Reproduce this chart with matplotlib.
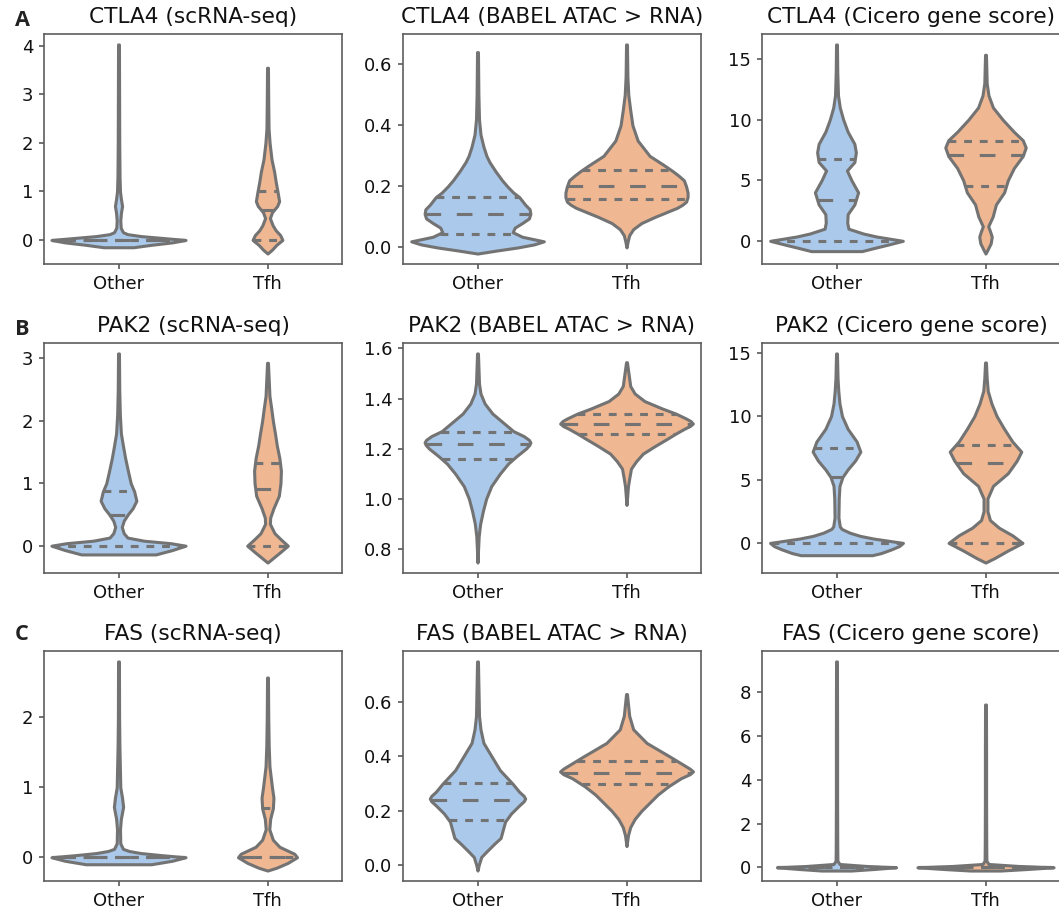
import numpy as np
import matplotlib
matplotlib.use("Agg")
import matplotlib.pyplot as plt

groups = ["Other", "Tfh"]
genes = ["CTLA4", "PAK2", "FAS"]
methods = ["scRNA-seq", "BABEL ATAC > RNA", "Cicero gene score"]
panel_letters = ["A", "B", "C"]

# violin outlines: y values and half widths (category units)
# quartiles are [Q1, median, Q3]

# CTLA4 scRNA-seq
ctla4_rna_other_y = [-0.15, -0.10, -0.05, 0.0, 0.04, 0.08, 0.12, 0.16, 0.25, 0.4, 0.55, 0.7, 0.85, 1.0, 1.3, 2.0, 3.0, 4.03]
ctla4_rna_other_w = [0.10, 0.22, 0.36, 0.45, 0.30, 0.15, 0.06, 0.03, 0.015, 0.012, 0.016, 0.024, 0.016, 0.01, 0.007, 0.005, 0.004, 0.003]
ctla4_rna_other_q = [0.0, 0.0, 0.0]
ctla4_rna_tfh_y = [-0.28, -0.2, -0.1, 0.0, 0.1, 0.2, 0.3, 0.45, 0.57, 0.7, 0.8, 1.0, 1.2, 1.4, 1.66, 2.0, 2.3, 2.8, 3.55]
ctla4_rna_tfh_w = [0.0, 0.03, 0.06, 0.10, 0.085, 0.055, 0.035, 0.016, 0.03, 0.065, 0.078, 0.067, 0.055, 0.045, 0.027, 0.014, 0.007, 0.005, 0.003]
ctla4_rna_tfh_q = [0.0, 0.62, 1.0]

# CTLA4 BABEL
ctla4_babel_other_y = [-0.02, -0.01, 0.0, 0.01, 0.02, 0.035, 0.05, 0.065, 0.08, 0.095, 0.11, 0.125, 0.14, 0.165, 0.18, 0.2, 0.22, 0.25, 0.28, 0.3, 0.33, 0.37, 0.42, 0.5, 0.64]
ctla4_babel_other_w = [0.0, 0.13, 0.27, 0.38, 0.445, 0.30, 0.236, 0.25, 0.30, 0.345, 0.355, 0.35, 0.32, 0.28, 0.24, 0.20, 0.165, 0.12, 0.08, 0.06, 0.04, 0.02, 0.01, 0.006, 0.003]
ctla4_babel_other_q = [0.045, 0.11, 0.165]
ctla4_babel_tfh_y = [0.0, 0.02, 0.04, 0.06, 0.08, 0.1, 0.12, 0.13, 0.14, 0.15, 0.165, 0.18, 0.2, 0.22, 0.235, 0.25, 0.27, 0.3, 0.35, 0.4, 0.45, 0.5, 0.56, 0.665]
ctla4_babel_tfh_w = [0.0, 0.008, 0.018, 0.045, 0.10, 0.19, 0.29, 0.34, 0.375, 0.40, 0.41, 0.41, 0.40, 0.385, 0.35, 0.31, 0.25, 0.155, 0.075, 0.04, 0.025, 0.012, 0.006, 0.003]
ctla4_babel_tfh_q = [0.16, 0.2, 0.253]

# CTLA4 Cicero
ctla4_cicero_other_y = [-0.85, -0.6, -0.3, 0.0, 0.15, 0.35, 0.6, 0.8, 1.0, 1.5, 2.2, 3.0, 4.0, 5.0, 5.8, 6.5, 7.3, 8.0, 9.0, 10.0, 11.0, 12.0, 14.0, 16.2]
ctla4_cicero_other_w = [0.17, 0.25, 0.35, 0.445, 0.37, 0.27, 0.18, 0.13, 0.08, 0.072, 0.075, 0.12, 0.145, 0.10, 0.07, 0.12, 0.13, 0.12, 0.075, 0.045, 0.022, 0.01, 0.005, 0.003]
ctla4_cicero_other_q = [0.0, 3.4, 6.71]
ctla4_cicero_tfh_y = [-1.05, -0.75, -0.2, 0.35, 0.8, 1.2, 2.0, 3.0, 4.0, 5.0, 6.0, 7.0, 7.7, 8.3, 9.0, 10.0, 11.0, 12.0, 13.0, 15.35]
ctla4_cicero_tfh_w = [0.0, 0.013, 0.035, 0.042, 0.03, 0.018, 0.048, 0.07, 0.125, 0.15, 0.19, 0.25, 0.27, 0.25, 0.19, 0.115, 0.05, 0.02, 0.008, 0.003]
ctla4_cicero_tfh_q = [4.56, 7.04, 8.26]

# PAK2 scRNA-seq
pak2_rna_other_y = [-0.14, -0.07, 0.0, 0.04, 0.08, 0.13, 0.2, 0.3, 0.4, 0.5, 0.6, 0.72, 0.87, 1.0, 1.2, 1.4, 1.6, 1.8, 2.1, 2.5, 3.08]
pak2_rna_other_w = [0.25, 0.36, 0.45, 0.35, 0.17, 0.06, 0.035, 0.022, 0.035, 0.062, 0.095, 0.12, 0.105, 0.082, 0.063, 0.045, 0.03, 0.016, 0.009, 0.005, 0.003]
pak2_rna_other_q = [0.0, 0.498, 0.873]
pak2_rna_tfh_y = [-0.27, -0.2, -0.1, 0.0, 0.1, 0.2, 0.35, 0.45, 0.6, 0.8, 1.0, 1.2, 1.4, 1.6, 1.8, 2.0, 2.2, 2.4, 2.93]
pak2_rna_tfh_w = [0.0, 0.036, 0.087, 0.136, 0.09, 0.047, 0.016, 0.018, 0.04, 0.076, 0.087, 0.09, 0.08, 0.063, 0.05, 0.036, 0.025, 0.013, 0.003]
pak2_rna_tfh_q = [0.0, 0.91, 1.33]

# PAK2 BABEL
pak2_babel_other_y = [0.745, 0.8, 0.85, 0.9, 0.95, 1.0, 1.05, 1.1, 1.14, 1.17, 1.2, 1.215, 1.225, 1.235, 1.25, 1.27, 1.3, 1.34, 1.38, 1.42, 1.46, 1.58]
pak2_babel_other_w = [0.0, 0.004, 0.008, 0.018, 0.036, 0.058, 0.092, 0.15, 0.205, 0.262, 0.325, 0.348, 0.355, 0.345, 0.31, 0.24, 0.18, 0.10, 0.048, 0.02, 0.01, 0.003]
pak2_babel_other_q = [1.157, 1.217, 1.268]
pak2_babel_tfh_y = [0.975, 1.05, 1.08, 1.12, 1.15, 1.18, 1.21, 1.24, 1.26, 1.28, 1.29, 1.30, 1.31, 1.32, 1.34, 1.36, 1.39, 1.42, 1.45, 1.545]
pak2_babel_tfh_w = [0.0, 0.01, 0.018, 0.03, 0.065, 0.11, 0.19, 0.275, 0.33, 0.39, 0.425, 0.445, 0.43, 0.40, 0.33, 0.24, 0.12, 0.055, 0.025, 0.003]
pak2_babel_tfh_q = [1.257, 1.297, 1.339]

# PAK2 Cicero
pak2_cicero_other_y = [-0.97, -0.8, -0.5, -0.25, 0.0, 0.15, 0.34, 0.55, 0.8, 1.1, 1.3, 2.0, 3.5, 4.5, 5.2, 5.8, 6.5, 7.2, 8.0, 9.0, 10.0, 11.0, 12.0, 13.0, 14.95]
pak2_cicero_other_w = [0.24, 0.3, 0.37, 0.42, 0.446, 0.36, 0.25, 0.16, 0.09, 0.035, 0.022, 0.013, 0.015, 0.02, 0.04, 0.075, 0.125, 0.16, 0.135, 0.075, 0.037, 0.02, 0.012, 0.007, 0.003]
pak2_cicero_other_q = [0.0, 5.19, 7.5]
pak2_cicero_tfh_y = [-1.55, -1.2, -0.6, 0.0, 0.6, 1.2, 1.8, 2.5, 3.5, 4.5, 5.5, 6.5, 7.2, 8.0, 9.0, 10.0, 11.0, 12.0, 13.0, 14.24]
pak2_cicero_tfh_w = [0.0, 0.06, 0.15, 0.248, 0.18, 0.09, 0.03, 0.013, 0.013, 0.05, 0.15, 0.21, 0.24, 0.18, 0.125, 0.075, 0.04, 0.015, 0.008, 0.003]
pak2_cicero_tfh_q = [0.0, 6.29, 7.74]

# FAS scRNA-seq
fas_rna_other_y = [-0.1, -0.05, 0.0, 0.03, 0.06, 0.09, 0.12, 0.2, 0.4, 0.55, 0.72, 0.85, 1.0, 1.2, 1.6, 2.0, 2.8]
fas_rna_other_w = [0.22, 0.36, 0.45, 0.29, 0.15, 0.07, 0.03, 0.012, 0.01, 0.016, 0.031, 0.024, 0.012, 0.01, 0.006, 0.004, 0.003]
fas_rna_other_q = [0.0, 0.0, 0.0]
fas_rna_tfh_y = [-0.19, -0.15, -0.08, 0.0, 0.05, 0.15, 0.25, 0.4, 0.55, 0.7, 0.85, 1.0, 1.3, 1.6, 2.0, 2.57]
fas_rna_tfh_w = [0.0, 0.06, 0.136, 0.198, 0.18, 0.08, 0.036, 0.012, 0.018, 0.036, 0.04, 0.03, 0.013, 0.008, 0.005, 0.003]
fas_rna_tfh_q = [0.0, 0.0, 0.708]

# FAS BABEL
fas_babel_other_y = [-0.02, 0.0, 0.03, 0.05, 0.08, 0.1, 0.13, 0.16, 0.19, 0.22, 0.235, 0.245, 0.255, 0.27, 0.3, 0.35, 0.4, 0.45, 0.5, 0.55, 0.75]
fas_babel_other_w = [0.0, 0.008, 0.025, 0.06, 0.115, 0.155, 0.17, 0.185, 0.225, 0.28, 0.31, 0.32, 0.31, 0.28, 0.235, 0.15, 0.095, 0.04, 0.02, 0.01, 0.003]
fas_babel_other_q = [0.166, 0.24, 0.301]
fas_babel_tfh_y = [0.07, 0.11, 0.14, 0.17, 0.2, 0.23, 0.26, 0.29, 0.32, 0.335, 0.345, 0.355, 0.37, 0.4, 0.45, 0.5, 0.55, 0.63]
fas_babel_tfh_w = [0.0, 0.01, 0.025, 0.055, 0.1, 0.155, 0.21, 0.28, 0.365, 0.425, 0.446, 0.425, 0.38, 0.29, 0.135, 0.045, 0.018, 0.003]
fas_babel_tfh_q = [0.298, 0.341, 0.384]

# FAS Cicero
fas_cicero_other_y = [-0.15, -0.08, 0.0, 0.06, 0.15, 0.3, 1.0, 3.0, 6.0, 9.41]
fas_cicero_other_w = [0.1, 0.25, 0.4, 0.2, 0.02, 0.006, 0.005, 0.004, 0.004, 0.003]
fas_cicero_other_q = [0.0, 0.0, 0.0]
fas_cicero_tfh_y = [-0.15, -0.08, 0.0, 0.06, 0.15, 0.3, 1.0, 3.0, 5.0, 7.44]
fas_cicero_tfh_w = [0.1, 0.28, 0.457, 0.22, 0.02, 0.006, 0.005, 0.004, 0.004, 0.003]
fas_cicero_tfh_q = [0.0, 0.0, 0.0]

panels = [
    [(ctla4_rna_other_y, ctla4_rna_other_w, ctla4_rna_other_q, ctla4_rna_tfh_y, ctla4_rna_tfh_w, ctla4_rna_tfh_q),
     (ctla4_babel_other_y, ctla4_babel_other_w, ctla4_babel_other_q, ctla4_babel_tfh_y, ctla4_babel_tfh_w, ctla4_babel_tfh_q),
     (ctla4_cicero_other_y, ctla4_cicero_other_w, ctla4_cicero_other_q, ctla4_cicero_tfh_y, ctla4_cicero_tfh_w, ctla4_cicero_tfh_q)],
    [(pak2_rna_other_y, pak2_rna_other_w, pak2_rna_other_q, pak2_rna_tfh_y, pak2_rna_tfh_w, pak2_rna_tfh_q),
     (pak2_babel_other_y, pak2_babel_other_w, pak2_babel_other_q, pak2_babel_tfh_y, pak2_babel_tfh_w, pak2_babel_tfh_q),
     (pak2_cicero_other_y, pak2_cicero_other_w, pak2_cicero_other_q, pak2_cicero_tfh_y, pak2_cicero_tfh_w, pak2_cicero_tfh_q)],
    [(fas_rna_other_y, fas_rna_other_w, fas_rna_other_q, fas_rna_tfh_y, fas_rna_tfh_w, fas_rna_tfh_q),
     (fas_babel_other_y, fas_babel_other_w, fas_babel_other_q, fas_babel_tfh_y, fas_babel_tfh_w, fas_babel_tfh_q),
     (fas_cicero_other_y, fas_cicero_other_w, fas_cicero_other_q, fas_cicero_tfh_y, fas_cicero_tfh_w, fas_cicero_tfh_q)],
]

fills = ["#abc9ea", "#efb792"]
gray = "#737373"
lw = 1.7


def draw_violins(ax, oy, ow, oq, ty, tw, tq):
    profiles = [(np.array(oy), np.array(ow), oq), (np.array(ty), np.array(tw), tq)]
    stats = []
    widths = []
    for ys, ws, q in profiles:
        stats.append(dict(coords=ys, vals=ws, mean=q[1], median=q[1], min=ys[0], max=ys[-1]))
        widths.append(2 * ws.max())
    parts = ax.violin(stats, positions=[0, 1], widths=widths, showextrema=False)
    for body, c in zip(parts["bodies"], fills):
        body.set_facecolor(c)
        body.set_edgecolor(gray)
        body.set_linewidth(lw)
        body.set_alpha(1)
        body.set_joinstyle("round")
    for pos, (ys, ws, q) in enumerate(profiles):
        for k, val in enumerate(q):
            hw = np.interp(val, ys, ws) * 0.99
            dash = [lw * 3] * 2 if k == 1 else [lw * 1.5] * 2
            ax.plot([pos - hw, pos + hw], [val, val], color=gray, lw=lw, dashes=dash)


W, H, dpi = 1059, 921, 130
fig = plt.figure(figsize=(W / dpi, H / dpi), dpi=dpi)

col_left = [44, 403, 762]
row_bottom = [264, 573, 881]
ax_w, ax_h = 298, 230

for r in range(3):
    for c in range(3):
        ax = fig.add_axes([col_left[c] / W, 1 - row_bottom[r] / H, ax_w / W, ax_h / H])
        draw_violins(ax, *panels[r][c])
        ax.set_xlim(-0.5, 1.5)
        ax.set_xticks([0, 1])
        ax.set_xticklabels(groups)
        ax.set_title("%s (%s)" % (genes[r], methods[c]), fontsize=12, color="#111111")
        ax.tick_params(labelsize=10, length=2.5, width=0.9, color="#555555", labelcolor="#111111")
        for s in ax.spines.values():
            s.set_color("#5a5a5a")
            s.set_linewidth(0.9)
    fig.text(15 / W, 1 - [26, 335, 640][r] / H, panel_letters[r], fontsize=12,
             fontweight="bold", family="Open Sans", color="#222222")

fig.savefig("out.png", dpi=dpi)
